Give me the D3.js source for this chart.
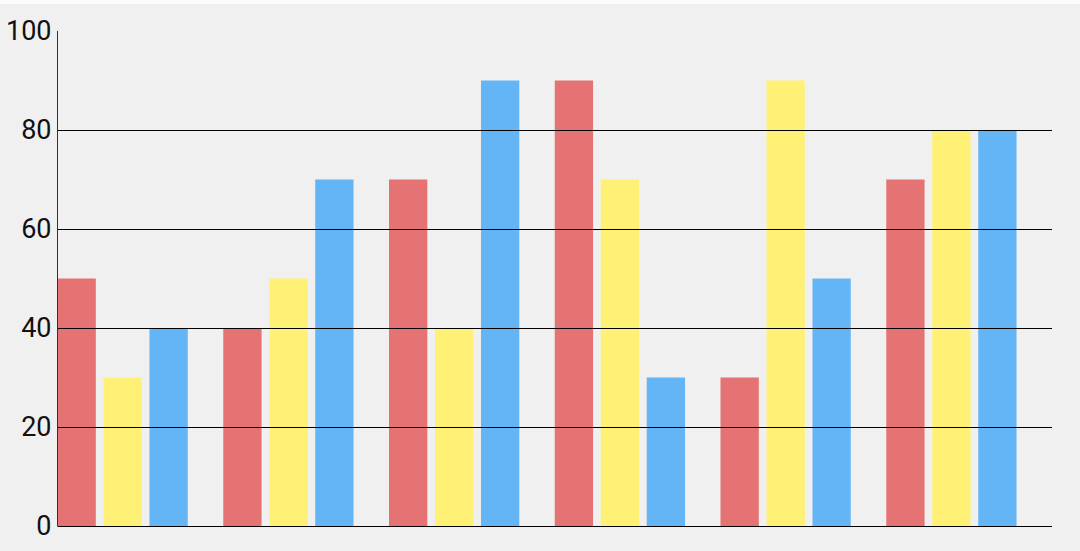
<!DOCTYPE html>
<html>
<head>
<meta charset="utf-8">
<script src="https://cdn.jsdelivr.net/npm/d3@7"></script>
<style>
  html, body { margin: 0; padding: 0; background: #fdfafa; }
  svg { display: block; }
</style>
</head>
<body>
<svg id="chart" width="1080" height="551"></svg>
<script>
const categories = ["A", "B", "C", "D", "E", "F"];
const seriesNames = ["Red", "Yellow", "Blue"];
const redValues = [50, 40, 70, 90, 30, 70];
const yellowValues = [30, 50, 40, 70, 90, 80];
const blueValues = [40, 70, 90, 30, 50, 80];
const tickValues = [0, 20, 40, 60, 80, 100];
const seriesColors = ["#e57373", "#fff176", "#64b5f6"];

const series = [redValues, yellowValues, blueValues];

(function () {
const svg = d3.select("#chart");
svg.append("rect").attr("x", 0).attr("y", 4).attr("width", 1080).attr("height", 547).attr("fill", "#f0f0f0");

const plotLeft = 57.5, plotRight = 1052, plotTop = 31, plotBottom = 526;

const y = d3.scaleLinear().domain([0, 100]).range([plotBottom, plotTop]);
const x0 = d3.scaleBand().domain(categories).range([plotLeft, plotRight]).paddingInner(0).paddingOuter(0);
const x1 = d3.scaleBand().domain(seriesNames).range([0, x0.bandwidth() * 0.786]).paddingInner(0.167).paddingOuter(0);

const g = svg.append("g");
categories.forEach((c, i) => {
  seriesNames.forEach((s, j) => {
    const v = series[j][i];
    g.append("rect")
      .attr("x", x0(c) + x1(s))
      .attr("y", y(v))
      .attr("width", x1.bandwidth())
      .attr("height", y(0) - y(v))
      .attr("fill", seriesColors[j]);
  });
});

const axis = d3.axisLeft(y).tickValues(tickValues).tickSize(-(plotRight - plotLeft)).tickPadding(6).tickFormat(d3.format("d"));
const ax = svg.append("g").attr("transform", `translate(${plotLeft},0)`).call(axis);
ax.select(".domain").remove();
ax.selectAll(".tick line").attr("stroke", "#000").attr("stroke-width", 1)
  .filter(d => d === 100).remove();
ax.selectAll(".tick text")
  .attr("font-family", "Roboto, sans-serif")
  .attr("font-size", 27)
  .attr("fill", "#111");

svg.append("line").attr("x1", plotLeft).attr("x2", plotLeft).attr("y1", plotTop).attr("y2", plotBottom)
  .attr("stroke", "#333").attr("stroke-width", 1);
})();
</script>
</body>
</html>
